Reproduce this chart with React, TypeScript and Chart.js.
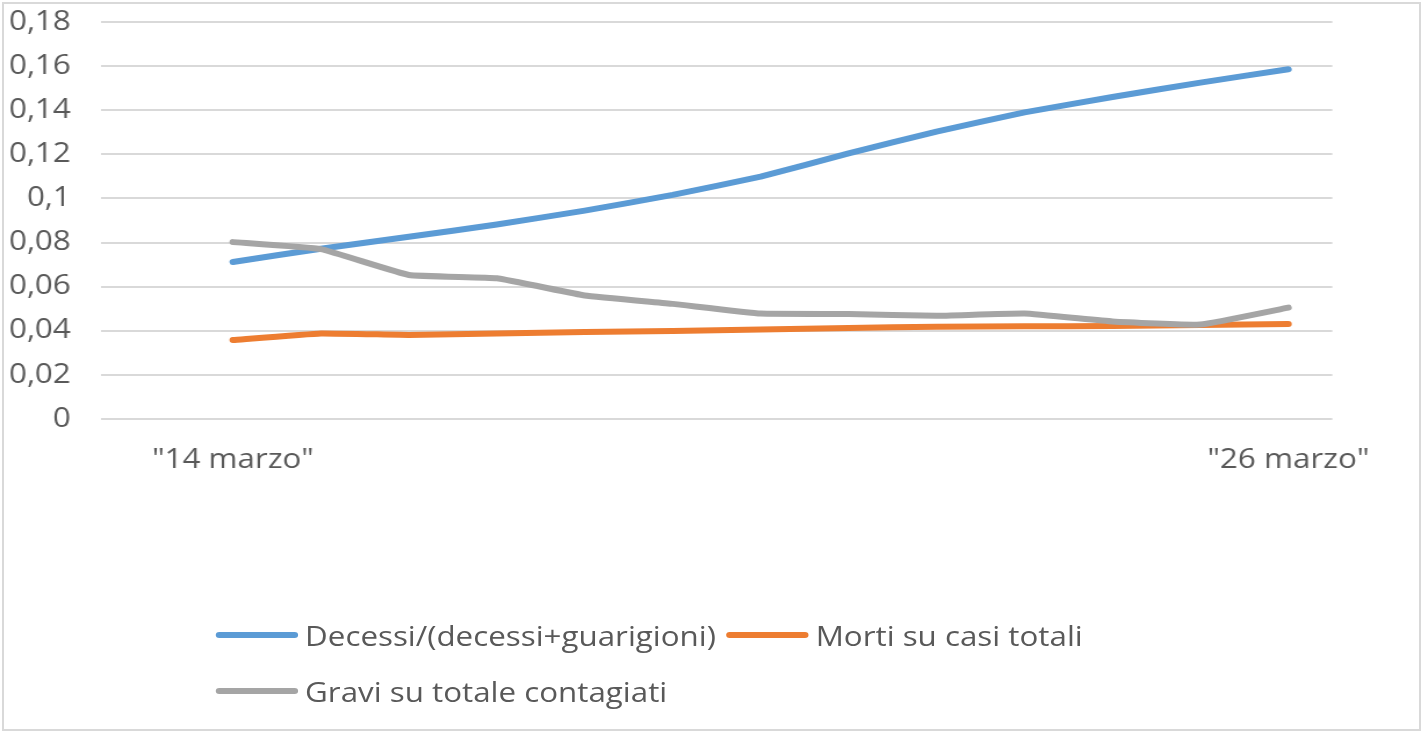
import React, { useEffect, useRef } from 'react';
import { Chart, registerables } from 'chart.js';

Chart.register(...registerables);

// Categories: a leading blank slot, then one entry per day
const categories = [
  '',
  '"14 marzo"', '"15 marzo"', '"16 marzo"', '"17 marzo"', '"18 marzo"', '"19 marzo"',
  '"20 marzo"', '"21 marzo"', '"22 marzo"', '"23 marzo"', '"24 marzo"', '"25 marzo"',
  '"26 marzo"',
];

// Only these category labels are printed on the axis
const shownXLabels = ['"14 marzo"', '"26 marzo"'];

const decessiSuChiusi = [
  null, 0.0712, 0.0772, 0.0826, 0.0882, 0.0945, 0.1016, 0.1099, 0.1204, 0.1303, 0.139, 0.146, 0.1525, 0.1586,
];
const mortiSuCasiTotali = [
  null, 0.0358, 0.0388, 0.0381, 0.0388, 0.0394, 0.0399, 0.0406, 0.0413, 0.0418, 0.042, 0.0422, 0.0426, 0.0431,
];
const graviSuContagiati = [
  null, 0.0802, 0.077, 0.0653, 0.0638, 0.056, 0.0522, 0.0478, 0.0476, 0.0468, 0.0478, 0.0442, 0.0428, 0.0505,
];

const seriesNames = ['Decessi/(decessi+guarigioni)', 'Morti su casi totali', 'Gravi su totale contagiati'];
const seriesColors = ['#5B9BD5', '#ED7D31', '#A5A5A5'];

const Y_MIN = 0;
const Y_MAX = 0.18;
const Y_STEP = 0.02;

// The whole figure is laid out narrower and stretched horizontally
const STRETCH = 1.16;
const FULL_W = 1424;
const FULL_H = 734;
const BASE_W = FULL_W / STRETCH;

const FONT = "'Open Sans', sans-serif";
const TEXT_COLOR = '#595959';
const GRID_COLOR = '#d9d9d9';

function formatTick(v: number): string {
  const r = Math.round(v * 100) / 100;
  return String(r).replace('.', ',');
}

export default function App() {
  const canvasRef = useRef<HTMLCanvasElement | null>(null);

  useEffect(() => {
    if (!canvasRef.current) return;
    const seriesData = [decessiSuChiusi, mortiSuCasiTotali, graviSuContagiati];
    const chart = new Chart(canvasRef.current, {
      type: 'line',
      data: {
        labels: categories,
        datasets: seriesNames.map((name, i) => ({
          label: name,
          data: seriesData[i],
          borderColor: seriesColors[i],
          backgroundColor: seriesColors[i],
          borderWidth: 6,
          pointRadius: 0,
          pointHoverRadius: 0,
          tension: 0.1,
          borderCapStyle: 'round' as const,
          borderJoinStyle: 'round' as const,
          fill: false,
          order: seriesNames.length - 1 - i,
        })),
      },
      options: {
        animation: false,
        responsive: true,
        maintainAspectRatio: false,
        layout: { padding: { top: 22, right: 80, left: 0, bottom: 0 } },
        plugins: {
          legend: { display: false },
          tooltip: { enabled: false },
        },
        scales: {
          x: {
            type: 'category',
            offset: true,
            grid: { display: false, drawTicks: false },
            border: { display: false },
            ticks: {
              autoSkip: false,
              maxRotation: 0,
              minRotation: 0,
              padding: 25,
              color: TEXT_COLOR,
              font: { family: FONT, size: 27 },
              callback: function (this: any, value: any) {
                const lbl = categories[value as number];
                return shownXLabels.includes(lbl) ? lbl : '';
              },
            },
            afterFit: (scale: any) => {
              scale.height = 81;
            },
          },
          y: {
            min: Y_MIN,
            max: Y_MAX,
            grid: {
              color: GRID_COLOR,
              lineWidth: 2,
              drawTicks: true,
              tickLength: 26,
              tickColor: 'rgba(0,0,0,0)',
            },
            border: { display: false },
            ticks: {
              stepSize: Y_STEP,
              padding: 0,
              color: TEXT_COLOR,
              font: { family: FONT, size: 27 },
              callback: (v: any) => formatTick(Number(v)),
            },
            afterFit: (scale: any) => {
              scale.width = 87;
            },
          },
        },
      },
    });
    return () => chart.destroy();
  }, []);

  return (
    <div
      style={{
        position: 'absolute',
        left: 0,
        top: 0,
        width: FULL_W,
        height: FULL_H,
        background: '#ffffff',
        overflow: 'hidden',
      }}
    >
      <div
        style={{
          position: 'absolute',
          left: 0,
          top: 0,
          width: BASE_W,
          height: FULL_H,
          transform: `scaleX(${STRETCH})`,
          transformOrigin: '0 0',
        }}
      >
        <div style={{ position: 'absolute', left: 0, top: 0, width: BASE_W, height: 500 }}>
          <canvas ref={canvasRef} />
        </div>
        <div
          style={{
            position: 'absolute',
            left: 186,
            top: 607,
            width: 760,
            display: 'flex',
            flexWrap: 'wrap',
            fontFamily: FONT,
            fontSize: 27,
            color: TEXT_COLOR,
            lineHeight: 1,
          }}
        >
          {seriesNames.map((name, i) => (
            <div
              key={name}
              style={{ display: 'flex', alignItems: 'center', height: 56, marginRight: 9, whiteSpace: 'nowrap' }}
            >
              <span
                style={{
                  display: 'inline-block',
                  width: 71,
                  height: 6,
                  borderRadius: 3,
                  background: seriesColors[i],
                  marginRight: 6,
                }}
              />
              <span>{name}</span>
            </div>
          ))}
        </div>
      </div>
      <div
        style={{
          position: 'absolute',
          left: 2,
          top: 2,
          width: FULL_W - 5,
          height: FULL_H - 5,
          border: `2px solid ${GRID_COLOR}`,
          boxSizing: 'border-box',
          pointerEvents: 'none',
        }}
      />
    </div>
  );
}
